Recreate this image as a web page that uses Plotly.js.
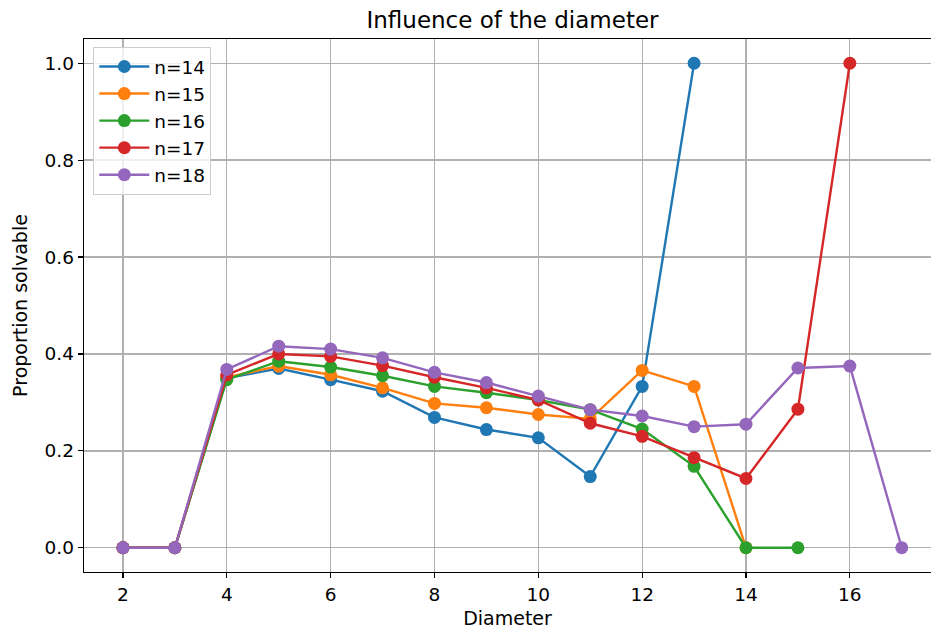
<!DOCTYPE html>
<html>
<head>
<meta charset="utf-8">
<script src="https://cdn.plot.ly/plotly-3.0.1.min.js"></script>
<style>html,body{margin:0;padding:0;background:#fff;}#chart{width:931px;height:630px;}</style>
</head>
<body>
<div id="chart"></div>
<script>
const diam14 = [2,3,4,5,6,7,8,9,10,11,12,13];
const prop14 = [0,0,0.350,0.370,0.347,0.323,0.269,0.244,0.227,0.147,0.333,1.0];
const diam15 = [2,3,4,5,6,7,8,9,10,11,12,13,14];
const prop15 = [0,0,0.352,0.375,0.357,0.330,0.298,0.289,0.275,0.266,0.366,0.333,0];
const diam16 = [2,3,4,5,6,7,8,9,10,11,12,13,14,15];
const prop16 = [0,0,0.347,0.385,0.373,0.355,0.333,0.320,0.305,0.285,0.245,0.168,0,0];
const diam17 = [2,3,4,5,6,7,8,9,10,11,12,13,14,15,16];
const prop17 = [0,0,0.357,0.400,0.395,0.376,0.352,0.330,0.305,0.257,0.230,0.186,0.143,0.286,1.0];
const diam18 = [2,3,4,5,6,7,8,9,10,11,12,13,14,15,16,17];
const prop18 = [0,0,0.368,0.416,0.410,0.392,0.362,0.341,0.313,0.285,0.272,0.250,0.255,0.371,0.375,0];
const seriesNames = ['n=14','n=15','n=16','n=17','n=18'];
const colors = ['#1f77b4','#ff7f0e','#2ca02c','#d62728','#9467bd'];
const xs = [diam14, diam15, diam16, diam17, diam18];
const ys = [prop14, prop15, prop16, prop17, prop18];
const yTicks = [0,0.2,0.4,0.6,0.8,1.0];
const xTicks = [2,4,6,8,10,12,14,16];

const traces = seriesNames.map((name,i)=>({
  x: xs[i], y: ys[i], name: name, type:'scatter', mode:'lines+markers',
  line:{color:colors[i], width:2.4},
  marker:{color:colors[i], size:13}
}));

const font = {family:'DejaVu Sans, sans-serif', size:18, color:'#000'};
const layout = {
  width:931, height:630,
  margin:{l:84, r:0, t:39, b:58},
  paper_bgcolor:'#fff', plot_bgcolor:'#fff',
  font: font,
  title:{text:'Influence of the diameter', font:{family:'DejaVu Sans, sans-serif', size:23, color:'#000'}, x:0.5505, xanchor:'center', y:0.968, yanchor:'middle'},
  xaxis:{
    range:[1.25,17.563], tickvals:xTicks, ticktext:xTicks.map(String),
    showgrid:true, gridcolor:'#b0b0b0', gridwidth:1.3,
    showline:true, linecolor:'#000', linewidth:1.3, mirror:true,
    ticks:'outside', ticklen:5, tickwidth:1.2, tickcolor:'#000',
    zeroline:false, tickfont:{size:18.5},
    title:{text:'Diameter', font:{size:19}, standoff:8}
  },
  yaxis:{
    range:[-0.05,1.05], tickvals:yTicks, ticktext:yTicks.map(v=>v.toFixed(1)),
    showgrid:true, gridcolor:'#b0b0b0', gridwidth:1.3,
    showline:true, linecolor:'#000', linewidth:1.3,
    ticks:'outside', ticklen:5, tickwidth:1.2, tickcolor:'#000',
    zeroline:false, tickfont:{size:18.5},
    title:{text:'Proportion solvable', font:{size:19}, standoff:12}
  },
  legend:{
    x:0.011, y:0.985, xanchor:'left', yanchor:'top',
    bgcolor:'rgba(255,255,255,0.8)', bordercolor:'#cccccc', borderwidth:1,
    font:{size:18.5}, itemwidth:50
  },
  showlegend:true
};
Plotly.newPlot('chart', traces, layout, {displayModeBar:false, staticPlot:true});
</script>
</body>
</html>
